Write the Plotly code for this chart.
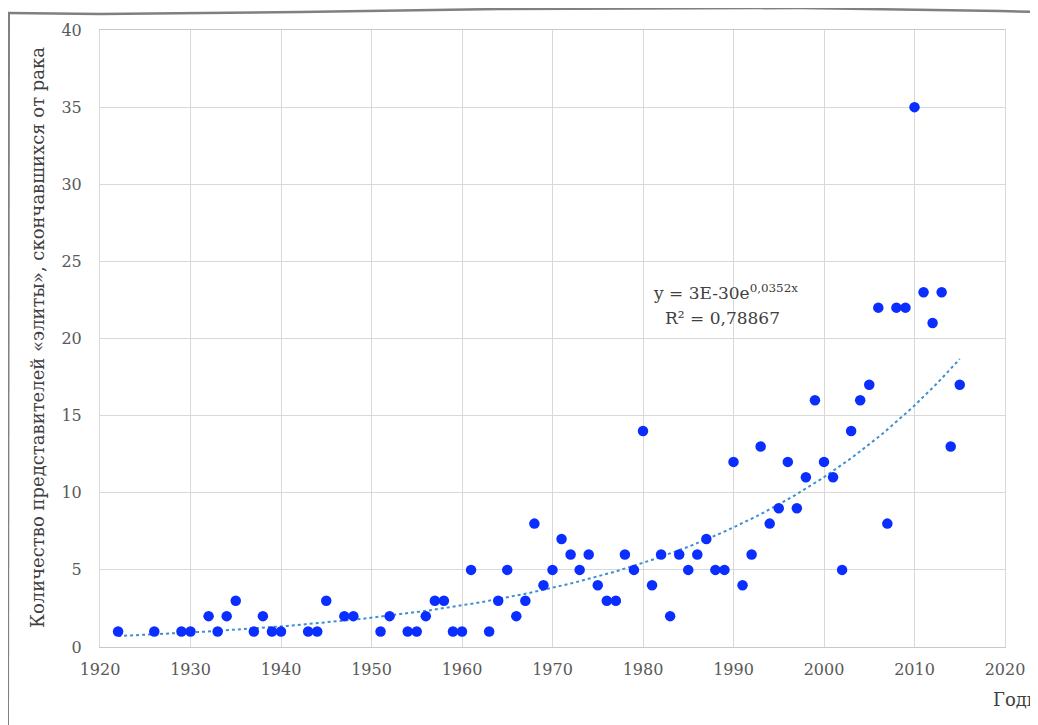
import numpy as np
import plotly.graph_objects as go

years = [1922, 1926, 1929, 1930, 1932, 1933, 1934, 1935, 1937, 1938, 1939, 1940,
         1943, 1944, 1945, 1947, 1948, 1951, 1952, 1954, 1955, 1956, 1957, 1958,
         1959, 1960, 1961, 1963, 1964, 1965, 1966, 1967, 1968, 1969, 1970, 1971,
         1972, 1973, 1974, 1975, 1976, 1977, 1978, 1979, 1980, 1981, 1982, 1983,
         1984, 1985, 1986, 1987, 1988, 1989, 1990, 1991, 1992, 1993, 1994, 1995,
         1996, 1997, 1998, 1999, 2000, 2001, 2002, 2003, 2004, 2005, 2006, 2007,
         2008, 2009, 2010, 2011, 2012, 2013, 2014, 2015]
deaths = [1, 1, 1, 1, 2, 1, 2, 3, 1, 2, 1, 1,
          1, 1, 3, 2, 2, 1, 2, 1, 1, 2, 3, 3,
          1, 1, 5, 1, 3, 5, 2, 3, 8, 4, 5, 7,
          6, 5, 6, 4, 3, 3, 6, 5, 14, 4, 6, 2,
          6, 5, 6, 7, 5, 5, 12, 4, 6, 13, 8, 9,
          12, 9, 11, 16, 12, 11, 5, 14, 16, 17, 22, 8,
          22, 22, 35, 23, 21, 23, 13, 17]

x_ticks = list(range(1920, 2021, 10))
y_ticks = list(range(0, 41, 5))

eq_text = "y = 3E-30e<sup>0,0352x</sup>"
r2_text = "R² = 0,78867"
y_title = "Количество представителей «элиты», скончавшихся от рака"
x_title = "Годы"

# exponential trendline (least squares on log y, as spreadsheet trendline)
xa = np.array(years, dtype=float)
ya = np.array(deaths, dtype=float)
b, lna = np.polyfit(xa, np.log(ya), 1)
xt = np.linspace(xa.min(), xa.max(), 200)
yt = np.exp(lna + b * xt)

OFF = 8  # page body margin
W, H = 1038 - OFF, 725 - OFF
L, T = 100 - OFF, 30 - OFF
R = W - (1005 - OFF)
B = H - (647 - OFF)
pw, ph = W - L - R, H - T - B


def px(xp):
    return (xp - OFF - L) / pw


def py(yp):
    return (H - B - (yp - OFF)) / ph


fig = go.Figure()
fig.add_trace(go.Scatter(x=xt, y=yt, mode="lines",
                         line=dict(color="#3d8fd1", width=2, dash="dot"),
                         hoverinfo="skip", showlegend=False))
fig.add_trace(go.Scatter(x=years, y=deaths, mode="markers",
                         marker=dict(color="#0a2eff", size=10.5),
                         showlegend=False))

tick_font = dict(family="DejaVu Serif", size=16, color="#595959")
fig.update_xaxes(range=[1920, 2020], tickvals=x_ticks, ticktext=[str(v) for v in x_ticks],
                 showgrid=True, gridcolor="#d9d9d9", gridwidth=1,
                 showline=True, linecolor="#c8c8c8", linewidth=1, mirror=True,
                 zeroline=False, ticks="", tickfont=tick_font, ticklabelstandoff=8)
fig.update_yaxes(range=[0, 40], tickvals=y_ticks, ticktext=[str(v) for v in y_ticks],
                 showgrid=True, gridcolor="#d9d9d9", gridwidth=1,
                 showline=True, linecolor="#d9d9d9", linewidth=1, mirror=True,
                 zeroline=False, ticks="", tickfont=tick_font, ticklabelstandoff=14)

ann_font = dict(family="DejaVu Serif", size=17, color="#404040")
fig.add_annotation(x=px(725), y=py(292), xref="paper", yref="paper", text=eq_text,
                   showarrow=False, font=ann_font, xanchor="center", yanchor="middle")
fig.add_annotation(x=px(722), y=py(318), xref="paper", yref="paper", text=r2_text,
                   showarrow=False, font=ann_font, xanchor="center", yanchor="middle")
fig.add_annotation(x=px(37), y=py(338), xref="paper", yref="paper", text=y_title,
                   textangle=-90, showarrow=False,
                   font=dict(family="DejaVu Serif", size=18, color="#404040"),
                   xanchor="center", yanchor="middle")
fig.add_annotation(x=px(991), y=py(699), xref="paper", yref="paper", text=x_title,
                   showarrow=False,
                   font=dict(family="DejaVu Serif", size=18, color="#404040"),
                   xanchor="left", yanchor="middle")

# hand-drawn frame
top_pts = [(8, 13), (100, 14), (300, 12), (500, 9), (800, 8), (1000, 11), (1038, 12)]
path = "M " + " L ".join(f"{px(a)},{py(c)}" for a, c in top_pts)
fig.add_shape(type="path", path=path, xref="paper", yref="paper",
              line=dict(color="#808080", width=2.5), layer="above")
fig.add_shape(type="line", x0=px(9), x1=px(8), y0=py(14), y1=py(725),
              xref="paper", yref="paper", line=dict(color="#808080", width=2))

fig.update_layout(width=W, height=H, margin=dict(l=L, r=R, t=T, b=B),
                  plot_bgcolor="white", paper_bgcolor="white",
                  showlegend=False)
fig.write_html("out.html")
